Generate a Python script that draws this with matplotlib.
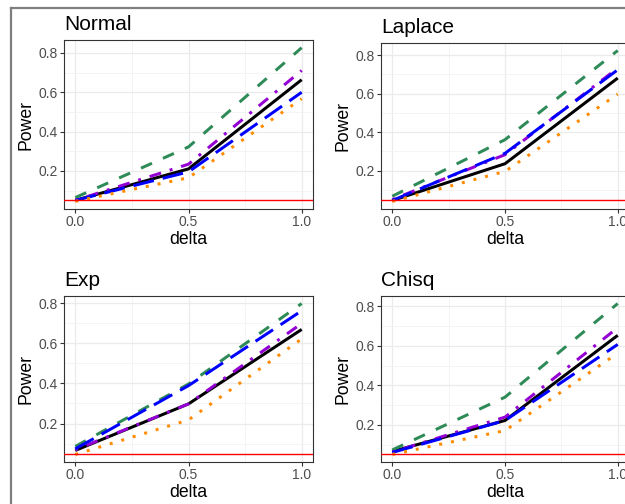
"""Power curves for four error distributions, 2x2 panel grid."""

import matplotlib

matplotlib.use("Agg")
import matplotlib.pyplot as plt
from matplotlib.lines import Line2D

plt.rcParams["font.family"] = ["Liberation Sans", "DejaVu Sans"]

W, H, DPI = 625, 504, 100

# x values shared by every curve
delta = [0.0, 0.5, 1.0]
alpha_level = 0.05

# Power per method (solid, dashed, dotdash, longdash, dotted)
normal_solid = [0.050, 0.210, 0.664]
normal_dashed = [0.064, 0.322, 0.827]
normal_dotdash = [0.050, 0.234, 0.711]
normal_longdash = [0.050, 0.195, 0.600]
normal_dotted = [0.045, 0.165, 0.567]

laplace_solid = [0.045, 0.236, 0.681]
laplace_dashed = [0.067, 0.361, 0.824]
laplace_dotdash = [0.050, 0.283, 0.733]
laplace_longdash = [0.045, 0.290, 0.724]
laplace_dotted = [0.040, 0.196, 0.598]

exp_solid = [0.066, 0.298, 0.669]
exp_dashed = [0.086, 0.397, 0.798]
exp_dotdash = [0.069, 0.298, 0.699]
exp_longdash = [0.074, 0.389, 0.762]
exp_dotted = [0.046, 0.218, 0.622]

chisq_solid = [0.065, 0.222, 0.653]
chisq_dashed = [0.073, 0.340, 0.814]
chisq_dotdash = [0.062, 0.239, 0.692]
chisq_longdash = [0.060, 0.222, 0.607]
chisq_dotted = [0.050, 0.171, 0.563]

panel_titles = ["Normal", "Laplace", "Exp", "Chisq"]
x_ticks = [0.0, 0.5, 1.0]
x_tick_labels = ["0.0", "0.5", "1.0"]
y_ticks = [0.2, 0.4, 0.6, 0.8]

LW = 2.16  # ~3 px
series_styles = [
    {"color": "black", "ls": "-"},
    {"color": "#2E8B57", "ls": (0, (4, 4))},
    {"color": "#9400D3", "ls": (0, (1, 3, 4, 3))},
    {"color": "#0000FF", "ls": (0, (7, 3))},
    {"color": "#FF8C00", "ls": (0, (1, 3))},
]

# panel boxes in pixels: left, top, right, bottom
panel_boxes = [
    (64, 40, 313, 209),
    (381, 43, 629, 209),
    (64, 296, 313, 462),
    (381, 296, 629, 462),
]


def px_rect(left, top, right, bottom):
    return [left / W, 1 - bottom / H, (right - left) / W, (bottom - top) / H]


def draw_panel(ax, title, curves):
    for values, st in zip(curves, series_styles):
        ax.plot(delta, values, color=st["color"], linestyle=st["ls"], lw=LW,
                solid_capstyle="butt", dash_capstyle="butt")
    ax.axhline(alpha_level, color="red", lw=1.0, zorder=5)

    # ggplot-like 5% expansion
    lo = min(min(v) for v in curves + [[alpha_level]])
    hi = max(max(v) for v in curves)
    pad = (hi - lo) * 0.05
    ax.set_ylim(lo - pad, hi + pad)
    ax.set_xlim(-0.05, 1.05)

    ax.set_xticks(x_ticks)
    ax.set_xticklabels(x_tick_labels)
    ax.set_yticks(y_ticks)
    ax.set_xticks([0.25, 0.75], minor=True)
    ax.set_yticks([0.1, 0.3, 0.5, 0.7], minor=True)
    ax.grid(which="major", color="#EBEBEB", lw=0.9)
    ax.grid(which="minor", color="#F2F2F2", lw=0.6)
    ax.set_axisbelow(True)
    ax.tick_params(which="major", direction="out", length=2.6, width=0.8,
                   color="#333333", labelcolor="#4D4D4D", labelsize=10, pad=2)
    ax.tick_params(which="minor", length=0)
    for sp in ax.spines.values():
        sp.set_color("#333333")
        sp.set_linewidth(0.8)

    ax.set_title(title, loc="left", fontsize=15, pad=7)
    ax.set_xlabel("delta", fontsize=12.7, labelpad=1)
    ax.set_ylabel("Power", fontsize=12.7, labelpad=3)


fig = plt.figure(figsize=(W / DPI, H / DPI), dpi=DPI)
fig.patch.set_facecolor("white")

all_curves = [
    [normal_solid, normal_dashed, normal_dotdash, normal_longdash, normal_dotted],
    [laplace_solid, laplace_dashed, laplace_dotdash, laplace_longdash, laplace_dotted],
    [exp_solid, exp_dashed, exp_dotdash, exp_longdash, exp_dotted],
    [chisq_solid, chisq_dashed, chisq_dotdash, chisq_longdash, chisq_dotted],
]

for box, title, curves in zip(panel_boxes, panel_titles, all_curves):
    ax = fig.add_axes(px_rect(*box))
    draw_panel(ax, title, curves)

# grey outer frame (only its top and left edges fall inside the image)
fig.add_artist(Line2D([10.5 / W, 1.0], [1 - 8 / H, 1 - 8 / H], color="#7F7F7F", lw=1.6))
fig.add_artist(Line2D([10.5 / W, 10.5 / W], [0.0, 1 - 8 / H], color="#7F7F7F", lw=1.6))

fig.savefig("out.png", dpi=DPI)
